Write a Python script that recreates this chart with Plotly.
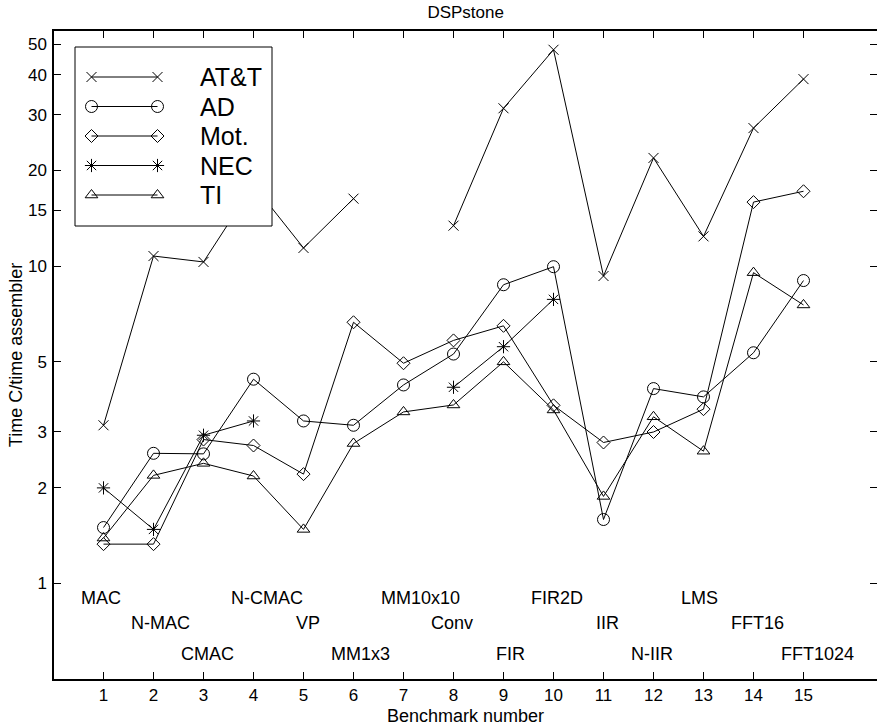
import numpy as np
import plotly.graph_objects as go

# ---------------- data ----------------
bench_num = list(range(1, 16))
benchmarks = ["MAC", "N-MAC", "CMAC", "N-CMAC", "VP", "MM1x3", "MM10x10", "Conv",
              "FIR", "FIR2D", "IIR", "N-IIR", "LMS", "FFT16", "FFT1024"]
att = [3.15, 10.75, 10.3, 18.0, 11.4, 16.3, None, 13.4, 31.4, 48.0, 9.3, 21.9, 12.4, 27.2, 38.8]
ad = [1.50, 2.57, 2.56, 4.40, 3.25, 3.15, 4.22, 5.28, 8.73, 9.95, 1.59, 4.11, 3.87, 5.33, 9.0]
mot = [1.33, 1.33, 2.84, 2.72, 2.21, 6.65, 4.94, 5.83, 6.48, 3.64, 2.78, 3.0, 3.54, 15.9, 17.2]
nec = [2.0, 1.48, 2.93, 3.25, None, None, None, 4.15, 5.57, 7.85, None, None, None, None, None]
ti = [1.39, 2.19, 2.39, 2.18, 1.48, 2.76, 3.47, 3.65, 4.99, 3.52, 1.88, 3.35, 2.61, 9.53, 7.54]
series_names = ["AT&T", "AD", "Mot.", "NEC", "TI"]
y_tick_vals = [1, 2, 3, 5, 10, 15, 20, 30, 40, 50]
label_rows = [0.9, 0.75, 0.6]

# ---------------- style ----------------
FONT = "Liberation Sans, Arial, Helvetica, sans-serif"
symbols = ["x-thin-open", "circle-open", "diamond-open", "asterisk-open", "triangle-up-open"]
sizes = [10, 12, 10, 11, 11]
all_series = [att, ad, mot, nec, ti]

fig = go.Figure()
for name, vals, sym, sz in zip(series_names, all_series, symbols, sizes):
    fig.add_trace(go.Scatter(
        x=bench_num, y=vals, name=name, mode="lines+markers",
        line=dict(color="black", width=1),
        marker=dict(symbol=sym, size=sz, color="black", line=dict(width=1, color="black")),
        showlegend=False, xaxis="x", yaxis="y", connectgaps=False))

# ---------------- custom legend (drawn in an overlay subplot on top) ----------------
W, H = 877, 727
ml, mr, mt, mb = 54, 0, 31, 48
pw, ph = W - ml - mr, H - mt - mb
def px_x(p):
    return (p - ml) / pw
def px_y(p):
    return (H - mb - p) / ph

bx0, bx1, by0, by1 = px_x(75), px_x(272), px_y(226), px_y(47)
fig.add_trace(go.Scatter(x=[bx0, bx1, bx1, bx0, bx0], y=[by0, by0, by1, by1, by0],
                         mode="lines", fill="toself", fillcolor="white",
                         line=dict(color="black", width=1), showlegend=False,
                         hoverinfo="skip", xaxis="x2", yaxis="y2"))
row_y0, row_step = 77, 29.5
annotations = []
for k, (name, sym, sz) in enumerate(zip(series_names, symbols, sizes)):
    yy = px_y(row_y0 + k * row_step)
    fig.add_trace(go.Scatter(x=[px_x(91.5), px_x(157.5)], y=[yy, yy], mode="lines+markers",
                             line=dict(color="black", width=1),
                             marker=dict(symbol=sym, size=sz, color="black", line=dict(width=1, color="black")),
                             showlegend=False, hoverinfo="skip", xaxis="x2", yaxis="y2"))
    annotations.append(dict(x=px_x(198), y=yy, xref="paper", yref="paper", text=name,
                            showarrow=False, xanchor="left", yanchor="middle",
                            font=dict(size=25, color="black", family=FONT)))

# ---------------- benchmark labels ----------------
short_shift = {"VP": -0.2, "FIR": -0.2, "IIR": -0.2}
for i, lab in zip(bench_num, benchmarks):
    annotations.append(dict(x=i + short_shift.get(lab, -0.5), y=np.log10(label_rows[(i - 1) % 3]),
                            xref="x", yref="y", text=lab, showarrow=False,
                            xanchor="left", yanchor="middle",
                            font=dict(size=18, color="black", family=FONT)))

fig.update_layout(
    width=W, height=H,
    margin=dict(l=ml, r=mr, t=mt, b=mb, pad=0, autoexpand=False),
    paper_bgcolor="white", plot_bgcolor="rgba(0,0,0,0)",
    font=dict(family=FONT, size=17, color="black"),
    title=dict(text="DSPstone", x=0.531, xanchor="center", y=0.984, yanchor="middle",
               font=dict(size=17, family=FONT, color="black")),
    xaxis=dict(range=[0.01, 16.47], tickvals=bench_num, ticks="inside", ticklen=7,
               tickwidth=1, tickcolor="black", showline=True, linecolor="black", linewidth=1.5,
               mirror="ticks", showgrid=False, zeroline=False,
               title=dict(text="Benchmark number", standoff=5, font=dict(size=18, family=FONT)),
               tickfont=dict(size=17, family=FONT), domain=[0, 1]),
    yaxis=dict(type="log", range=[np.log10(0.5), np.log10(55)], tickvals=y_tick_vals,
               ticktext=[str(v) for v in y_tick_vals], ticks="inside", ticklen=7,
               tickwidth=1, tickcolor="black", showline=True, linecolor="black", linewidth=1.5,
               mirror="ticks", showgrid=False, zeroline=False,
               title=dict(text="Time C/time assembler", standoff=1, font=dict(size=18, family=FONT)),
               tickfont=dict(size=17, family=FONT), ticklabelstandoff=2, domain=[0, 1]),
    xaxis2=dict(domain=[0, 1], range=[0, 1], visible=False, anchor="y2", fixedrange=True),
    yaxis2=dict(domain=[0, 1], range=[0, 1], visible=False, anchor="x2", fixedrange=True),
    annotations=annotations,
    showlegend=False,
)

fig.write_html("out.html", config={"displayModeBar": False},
               post_script="document.body.style.margin='0';document.body.style.overflow='hidden';")
